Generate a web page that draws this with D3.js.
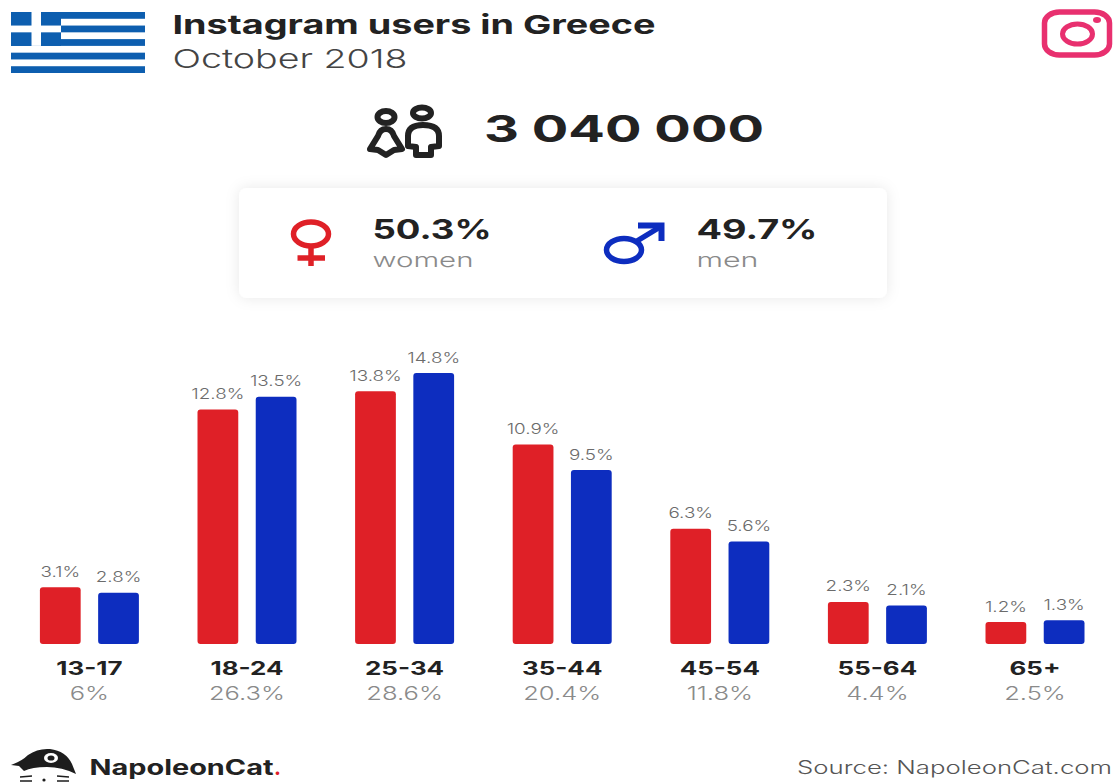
<!DOCTYPE html>
<html>
<head>
<meta charset="utf-8">
<title>Instagram users in Greece</title>
<script src="https://cdn.jsdelivr.net/npm/d3@7"></script>
<style>
  html, body { margin: 0; padding: 0; background: #fff; }
  svg { display: block; }
  text { font-family: Inter, "Open Sans", sans-serif; }
</style>
</head>
<body>
<svg id="chart" width="1115" height="782"></svg>
<script>
// Age groups and their share of all users
const ageGroups = ["13-17", "18-24", "25-34", "35-44", "45-54", "55-64", "65+"];
const groupTotals = ["6%", "26.3%", "28.6%", "20.4%", "11.8%", "4.4%", "2.5%"];
const women = [3.1, 12.8, 13.8, 10.9, 6.3, 2.3, 1.2];
const men = [2.8, 13.5, 14.8, 9.5, 5.6, 2.1, 1.3];
const seriesNames = ["women", "men"];
const seriesColors = ["#df2027", "#0d2dbf"];

const DARK = "#222222", MID = "#6b6b6b", LIGHT = "#8a8a8a";
const W = 1115, H = 782;
const svg = d3.select("#chart");

// Wide letterforms: every label is stretched to an explicit or proportional width
function label(parent, str, x, y, opts) {
  const o = Object.assign({ size: 16, weight: 400, fill: DARK, anchor: "start", stretch: 1.2 }, opts);
  const t = parent.append("text")
    .attr("x", x).attr("y", y)
    .attr("font-size", o.size).attr("font-weight", o.weight)
    .attr("fill", o.fill).attr("text-anchor", o.anchor)
    .text(str);
  const natural = t.node().getComputedTextLength();
  t.attr("lengthAdjust", "spacingAndGlyphs")
   .attr("textLength", o.width || natural * o.stretch);
  return t;
}

// Drop shadow for the summary card
const defs = svg.append("defs");
const shadow = defs.append("filter").attr("id", "cardShadow")
  .attr("x", "-5%").attr("y", "-20%").attr("width", "110%").attr("height", "140%");
shadow.append("feDropShadow").attr("dx", 0).attr("dy", 0)
  .attr("stdDeviation", 7).attr("flood-color", "#000").attr("flood-opacity", 0.09);

// Clip for the footer logo, which runs off the bottom edge
defs.append("clipPath").attr("id", "pageClip")
  .append("rect").attr("width", W).attr("height", H);

/* ---------- Header ---------- */
const flag = svg.append("g").attr("transform", "translate(11,12)");
const flagBlue = "#0d5eaf";
const stripeH = 61 / 9;
d3.range(0, 9, 2).forEach(i => {
  flag.append("rect").attr("x", 0).attr("y", i * stripeH)
    .attr("width", 134).attr("height", stripeH).attr("fill", flagBlue);
});
flag.append("rect").attr("width", 50).attr("height", stripeH * 5).attr("fill", flagBlue);
flag.append("rect").attr("x", 20.5).attr("width", 9.5).attr("height", stripeH * 5).attr("fill", "#fff");
flag.append("rect").attr("y", stripeH * 2).attr("width", 50).attr("height", stripeH).attr("fill", "#fff");

label(svg, "Instagram users in Greece", 172.5, 34, { size: 26, weight: 700, width: 483 });
label(svg, "October 2018", 172.5, 68, { size: 26, weight: 300, fill: "#444", width: 235 });

const insta = svg.append("g").attr("fill", "none").attr("stroke", "#e8306f");
insta.append("rect").attr("x", 1044.5).attr("y", 12).attr("width", 65).attr("height", 43)
  .attr("rx", 15).attr("ry", 11).attr("stroke-width", 5.5);
insta.append("ellipse").attr("cx", 1077.5).attr("cy", 34).attr("rx", 15).attr("ry", 10).attr("stroke-width", 5);
insta.append("ellipse").attr("cx", 1097).attr("cy", 20).attr("rx", 4).attr("ry", 3)
  .attr("fill", "#e8306f").attr("stroke", "none");

/* ---------- Total users ---------- */
const people = svg.append("g").attr("fill", "none").attr("stroke", "#222")
  .attr("stroke-width", 6).attr("stroke-linejoin", "round");
people.append("ellipse").attr("cx", 386).attr("cy", 117).attr("rx", 8.5).attr("ry", 6);
people.append("path").attr("d", "M386,129 Q392,129 394,136 L402,149 L394,150 L386,155 L378,150 L370,149 L378,136 Q380,129 386,129 Z");
people.append("ellipse").attr("cx", 422).attr("cy", 113).attr("rx", 9).attr("ry", 5.5);
people.append("path").attr("d", "M408,146 L408,136 Q408,125 423,125 Q439,125 439,136 L439,146 L431,147 L431,155 L416,155 L416,147 Z");

label(svg, "3 040 000", 484, 142, { size: 37, weight: 700, width: 280 });

/* ---------- Gender summary card ---------- */
svg.append("rect").attr("x", 239).attr("y", 188).attr("width", 648).attr("height", 110)
  .attr("rx", 8).attr("fill", "#fff").attr("filter", "url(#cardShadow)");

const venus = svg.append("g").attr("fill", "none").attr("stroke", seriesColors[0]).attr("stroke-width", 5.5);
venus.append("ellipse").attr("cx", 311).attr("cy", 234).attr("rx", 17.5).attr("ry", 12);
venus.append("line").attr("x1", 311).attr("x2", 311).attr("y1", 246).attr("y2", 266);
venus.append("line").attr("x1", 297.5).attr("x2", 325).attr("y1", 258).attr("y2", 258);

const mars = svg.append("g").attr("fill", "none").attr("stroke", seriesColors[1]).attr("stroke-width", 5.5);
mars.append("ellipse").attr("cx", 624).attr("cy", 250).attr("rx", 17.5).attr("ry", 11.5);
mars.append("line").attr("x1", 637).attr("y1", 241).attr("x2", 660).attr("y2", 227);
mars.append("path").attr("d", "M638,225.5 L661.5,225.5 L661.5,241").attr("stroke-width", 6);

label(svg, "50.3%", 372.5, 239, { size: 27, weight: 700, width: 119 });
label(svg, "women", 372.5, 267, { size: 20, weight: 300, fill: LIGHT, width: 101 });
label(svg, "49.7%", 696.5, 239, { size: 27, weight: 700, width: 121 });
label(svg, "men", 696.5, 267, { size: 20, weight: 300, fill: LIGHT, width: 62 });

/* ---------- Grouped bars ---------- */
const baseline = 644;
const x0 = d3.scaleBand().domain(ageGroups).range([10.6, 1113.8]);
const x1 = d3.scaleBand().domain(seriesNames).range([0, 99]).paddingInner(0.3);
const y = d3.scaleLinear().domain([0, 14.8]).range([baseline, 373]);

const rows = ageGroups.map((g, i) => ({ group: g, total: groupTotals[i], women: women[i], men: men[i] }));

const groups = svg.selectAll("g.age").data(rows).join("g")
  .attr("class", "age")
  .attr("transform", d => `translate(${x0(d.group) + (x0.bandwidth() - 99) / 2},0)`);

seriesNames.forEach((name, s) => {
  groups.append("path")
    .attr("fill", seriesColors[s])
    .attr("d", d => {
      const p = d3.path();
      const l = x1(name), w = x1.bandwidth(), t = y(d[name]), b = baseline, r = 3;
      p.moveTo(l + r, t);
      p.lineTo(l + w - r, t);
      p.quadraticCurveTo(l + w, t, l + w, t + r);
      p.lineTo(l + w, b - r);
      p.quadraticCurveTo(l + w, b, l + w - r, b);
      p.lineTo(l + r, b);
      p.quadraticCurveTo(l, b, l, b - r);
      p.lineTo(l, t + r);
      p.quadraticCurveTo(l, t, l + r, t);
      return p.toString();
    });
  groups.each(function (d) {
    label(d3.select(this), d[name] + "%", x1(name) + x1.bandwidth() / 2, y(d[name]) - 10.5, {
      size: 14.5, weight: 300, fill: MID, anchor: "middle", stretch: 1.3
    });
  });
});

groups.each(function (d) {
  const g = d3.select(this);
  label(g, d.group, 49.5, 675, { size: 18.5, weight: 700, fill: DARK, anchor: "middle", stretch: 1.4 });
  label(g, d.total, 49.5, 700, { size: 18.5, weight: 300, fill: LIGHT, anchor: "middle", stretch: 1.38 });
});

/* ---------- Footer ---------- */
const logo = svg.append("g").attr("clip-path", "url(#pageClip)");
logo.append("path").attr("fill", "#1d1d1d")
  .attr("d", "M11,765 Q22,761 28,755 Q38,748 50,749 Q66,751 72,764 L76,774 Q62,767 47,767 Q32,767 24,771 L19,766 Z");
logo.append("ellipse").attr("cx", 51).attr("cy", 758).attr("rx", 7).attr("ry", 5).attr("fill", "#fff");
logo.append("ellipse").attr("cx", 51).attr("cy", 758).attr("rx", 3.5).attr("ry", 2.6).attr("fill", "#1d1d1d");
logo.append("path").attr("fill", "none").attr("stroke", "#1d1d1d").attr("stroke-width", 1.5)
  .attr("d", "M20,777 L32,776 M20,781 L32,781 M57,776 L69,777 M57,781 L69,781");
logo.append("circle").attr("cx", 44).attr("cy", 780).attr("r", 1.6).attr("fill", "#1d1d1d");

label(svg, "NapoleonCat", 89.5, 775, { size: 21, weight: 700, fill: "#222", width: 184 });
label(svg, ".", 274, 775, { size: 21, weight: 700, fill: seriesColors[0], width: 7 });
label(svg, "Source: NapoleonCat.com", 797, 774, { size: 18, weight: 300, fill: "#555", width: 315 });
</script>
</body>
</html>
